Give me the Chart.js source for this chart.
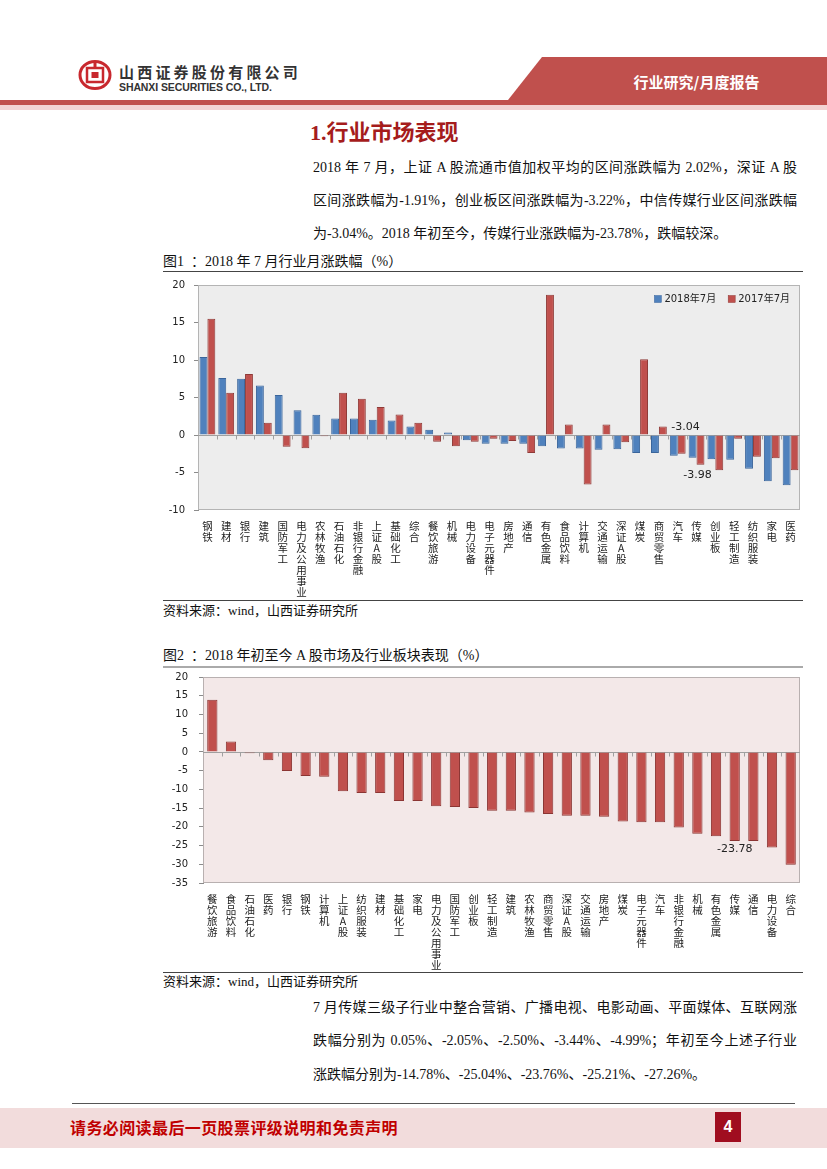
<!DOCTYPE html>
<html>
<head>
<meta charset="utf-8">
<script src="https://cdn.jsdelivr.net/npm/chart.js@4.4.0/dist/chart.umd.min.js"></script>
<style>
  body { margin: 0; width: 827px; height: 1169px; position: relative; background: #fff; overflow: hidden;
         font-family: "Liberation Serif", "Noto Sans CJK SC", serif; color: #111; }
  .abs { position: absolute; }
  .line { position: absolute; left: 313px; width: 484px; font-size: 14px; height: 20px; line-height: 20px;
          white-space: nowrap; }
  .just { text-align: justify; text-align-last: justify; }
  .caption { position: absolute; left: 163px; font-size: 14px; line-height: 18px; white-space: pre; }
  .source { position: absolute; left: 163px; font-size: 13px; line-height: 16px; white-space: nowrap; }
  .rule { position: absolute; left: 163px; width: 640px; height: 1px; background: #444; }
</style>
</head>
<body>
<!-- header -->
<svg class="abs" style="left:78px;top:60px" width="34" height="30" viewBox="0 0 34 30">
  <ellipse cx="17" cy="15" rx="15" ry="13.5" fill="none" stroke="#c8282e" stroke-width="3"/>
  <rect x="9" y="8" width="16" height="14" fill="none" stroke="#c8282e" stroke-width="2.5"/>
  <rect x="13.5" y="12" width="7" height="6" fill="#c8282e"/>
  <rect x="15.5" y="1" width="3" height="7" fill="#c8282e"/>
</svg>
<div class="abs" style="left:119px;top:63px;font:bold 15px 'Noto Sans CJK SC';letter-spacing:3.2px;color:#333;line-height:17px">山西证券股份有限公司</div>
<div class="abs" style="left:119px;top:81px;font:bold 10.5px 'Liberation Sans';color:#333;line-height:12px;letter-spacing:-0.1px">SHANXI SECURITIES CO., LTD.</div>
<div class="abs" style="left:504px;top:57px;width:323px;height:48px;background:#c0504d;clip-path:polygon(38px 0,100% 0,100% 100%,0 100%)"></div>
<div class="abs" style="left:0;top:100px;width:827px;height:5px;background:#c0504d"></div>
<div class="abs" style="left:0;top:105px;width:827px;height:5px;background:#f2d4d4"></div>
<div class="abs" style="left:620px;top:72px;width:153px;text-align:center;font:bold 15px 'Noto Sans CJK SC';color:#fff;line-height:20px">行业研究/月度报告</div>

<div class="abs" style="left:310px;top:118px;font:bold 22px 'Liberation Serif','Noto Sans CJK SC';color:#a51c1c;line-height:30px">1.行业市场表现</div>

<div class="line just" style="top:158px">2018 年 7 月，上证 A 股流通市值加权平均的区间涨跌幅为 2.02%，深证 A 股</div>
<div class="line just" style="top:191px">区间涨跌幅为-1.91%，创业板区间涨跌幅为-3.22%，中信传媒行业区间涨跌幅</div>
<div class="line" style="top:224px">为-3.04%。2018 年初至今，传媒行业涨跌幅为-23.78%，跌幅较深。</div>

<div class="caption" style="top:253px">图1  ：2018 年 7 月行业月涨跌幅（%）</div>
<div class="rule" style="top:271px"></div>
<canvas id="chart1" class="abs" style="left:163px;top:270px" width="640" height="330"></canvas>
<div class="rule" style="top:600px"></div>
<div class="source" style="top:603px">资料来源：wind，山西证券研究所</div>

<div class="caption" style="top:647px">图2  ：2018 年初至今 A 股市场及行业板块表现（%）</div>
<div class="rule" style="top:666px;height:2px;background:#aaa"></div>
<canvas id="chart2" class="abs" style="left:163px;top:660px" width="640" height="312"></canvas>
<div class="rule" style="top:972px"></div>
<div class="source" style="top:974px">资料来源：wind，山西证券研究所</div>

<div class="line just" style="top:998px">7 月传媒三级子行业中整合营销、广播电视、电影动画、平面媒体、互联网涨</div>
<div class="line just" style="top:1031px">跌幅分别为 0.05%、-2.05%、-2.50%、-3.44%、-4.99%；年初至今上述子行业</div>
<div class="line" style="top:1065px">涨跌幅分别为-14.78%、-25.04%、-23.76%、-25.21%、-27.26%。</div>

<!-- footer -->
<div class="abs" style="left:72px;top:1103px;width:723px;height:1px;background:#555"></div>
<div class="abs" style="left:0;top:1108px;width:827px;height:40px;background:#f2dcdc"></div>
<div class="abs" style="left:70px;top:1117px;font:bold 16px 'Noto Sans CJK SC';color:#c00000;line-height:20px;letter-spacing:0.4px">请务必阅读最后一页股票评级说明和免责声明</div>
<div class="abs" style="left:715px;top:1112px;width:26px;height:30px;background:#a00d1f;color:#fff;font:bold 16px 'Liberation Sans';line-height:30px;text-align:center">4</div>

<script>
// 图1：2018年7月行业月涨跌幅
const categories1 = ["钢铁", "建材", "银行", "建筑", "国防军工", "电力及公用事业", "农林牧渔", "石油石化",
  "非银行金融", "上证A股", "基础化工", "综合", "餐饮旅游", "机械", "电力设备", "电子元器件", "房地产",
  "通信", "有色金属", "食品饮料", "计算机", "交通运输", "深证A股", "煤炭", "商贸零售", "汽车", "传媒",
  "创业板", "轻工制造", "纺织服装", "家电", "医药"];
const values2018 = [10.4, 7.6, 7.5, 6.6, 5.35, 3.3, 2.7, 2.2, 2.2, 2.02, 1.95, 1.15, 0.7, 0.35, -0.7, -1.15,
  -1.15, -1.15, -1.5, -1.8, -1.8, -1.95, -1.91, -2.4, -2.4, -2.75, -3.04, -3.22, -3.3, -4.5, -6.15, -6.7];
const values2017 = [15.5, 5.65, 8.15, 1.65, -1.55, -1.75, -0.15, 5.65, 4.85, 3.75, 2.75, 1.65, -0.9, -1.5,
  -0.9, -0.5, -0.8, -2.4, 18.7, 1.4, -6.6, 1.4, -0.95, 10.1, 1.15, -2.5, -3.98, -4.7, -0.5, -2.9, -3.1, -4.7];
const yTicks1 = [-10, -5, 0, 5, 10, 15, 20];

// 图2：2018年初至今A股市场及行业板块表现
const categories2 = ["餐饮旅游", "食品饮料", "石油石化", "医药", "银行", "钢铁", "计算机", "上证A股",
  "纺织服装", "建材", "基础化工", "家电", "电力及公用事业", "国防军工", "创业板", "轻工制造", "建筑",
  "农林牧渔", "商贸零售", "深证A股", "交通运输", "房地产", "煤炭", "电子元器件", "汽车", "非银行金融",
  "机械", "有色金属", "传媒", "通信", "电力设备", "综合"];
const valuesYtd = [13.9, 2.75, -0.35, -2.2, -5.1, -6.45, -6.6, -10.5, -10.95, -10.95, -13.1, -13.1, -14.5,
  -14.7, -14.95, -15.7, -15.7, -16.2, -16.6, -17.05, -17.05, -17.3, -18.55, -18.8, -18.8, -20.15, -21.85,
  -22.55, -23.78, -23.8, -25.55, -30.15];
const yTicks2 = [-35, -30, -25, -20, -15, -10, -5, 0, 5, 10, 15, 20];

// 竖排标签：每个字一行
function verticalLabel(name) {
  return name.split("");
}

// 绘图区背景、边框、零轴
function plotFrame(bg, border) {
  return {
    id: "plotFrame",
    beforeDraw(chart) {
      const { ctx, chartArea } = chart;
      ctx.save();
      ctx.fillStyle = bg;
      ctx.fillRect(chartArea.left, chartArea.top, chartArea.width, chartArea.height);
      ctx.restore();
    },
    beforeDatasetsDraw(chart) {
      const { ctx, chartArea, scales } = chart;
      const y0 = Math.round(scales.y.getPixelForValue(0)) + 0.5;
      ctx.save();
      ctx.strokeStyle = border;
      ctx.lineWidth = 1;
      ctx.strokeRect(chartArea.left + 0.5, chartArea.top + 0.5, chartArea.width - 1, chartArea.height - 1);
      ctx.strokeStyle = "#a0a0a0";
      ctx.beginPath();
      ctx.moveTo(chartArea.left, y0);
      ctx.lineTo(chartArea.right, y0);
      const n = chart.data.labels.length;
      for (let i = 1; i < n; i++) {
        const xb = Math.round((scales.x.getPixelForValue(i - 1) + scales.x.getPixelForValue(i)) / 2) + 0.5;
        ctx.moveTo(xb, y0);
        ctx.lineTo(xb, y0 + 4);
      }
      ctx.stroke();
      ctx.restore();
    },
  };
}

// 图例画在绘图区右上角
const insideLegend = {
  id: "insideLegend",
  afterDatasetsDraw(chart) {
    const { ctx, chartArea } = chart;
    const sets = chart.data.datasets;
    ctx.save();
    ctx.font = "10px 'DejaVu Sans', 'Noto Sans CJK SC'";
    ctx.textBaseline = "middle";
    let x = chartArea.right - 10;
    const y = chartArea.top + 14;
    for (let i = sets.length - 1; i >= 0; i--) {
      const w = ctx.measureText(sets[i].label).width;
      x -= w;
      ctx.fillStyle = "#222";
      ctx.fillText(sets[i].label, x, y);
      x -= 10;
      ctx.fillStyle = sets[i].backgroundColor;
      ctx.fillRect(x, y - 3.5, 7, 7);
      ctx.strokeStyle = sets[i].borderColor;
      ctx.lineWidth = 0.5;
      ctx.strokeRect(x, y - 3.5, 7, 7);
      x -= 12;
    }
    ctx.restore();
  },
};

// 数据标签
function valueNotes(notes) {
  return {
    id: "valueNotes",
    afterDatasetsDraw(chart) {
      const { ctx } = chart;
      ctx.save();
      ctx.font = "11px 'DejaVu Sans'";
      ctx.fillStyle = "#222";
      ctx.textAlign = "center";
      ctx.textBaseline = "middle";
      for (const note of notes) {
        const el = chart.getDatasetMeta(note.ds).data[note.idx];
        const yRef = note.anchor === "base" ? el.base : el.y;
        ctx.fillText(note.text, el.x + note.dx, yRef + note.dy);
      }
      ctx.restore();
    },
  };
}

function axisOptions(yTicks, yWidth, xHeight, tickPad) {
  return {
    x: {
      grid: { display: false },
      border: { display: false },
      afterFit(scale) { scale.height = xHeight; },
      ticks: {
        autoSkip: false,
        maxRotation: 0,
        minRotation: 0,
        padding: 2,
        color: "#222",
        font: { family: "'Noto Sans CJK SC'", size: 10.5, lineHeight: 1.06 },
      },
    },
    y: {
      min: yTicks[0],
      max: yTicks[yTicks.length - 1],
      afterFit(scale) { scale.width = yWidth; },
      border: { display: true, color: "#8c8c8c" },
      grid: { drawOnChartArea: false, drawTicks: true, tickLength: 4, color: "#8c8c8c" },
      ticks: {
        stepSize: yTicks[1] - yTicks[0],
        padding: tickPad,
        color: "#222",
        font: { family: "'DejaVu Sans'", size: 10 },
      },
    },
  };
}

new Chart(document.getElementById("chart1"), {
  type: "bar",
  data: {
    labels: categories1.map(verticalLabel),
    datasets: [
      {
        label: "2018年7月",
        data: values2018,
        backgroundColor: "#4f81bd",
        borderColor: "#3a659b",
        borderWidth: 1,
        categoryPercentage: 0.84,
        barPercentage: 1.0,
      },
      {
        label: "2017年7月",
        data: values2017,
        backgroundColor: "#c0504d",
        borderColor: "#8f3a37",
        borderWidth: 1,
        categoryPercentage: 0.84,
        barPercentage: 1.0,
      },
    ],
  },
  options: {
    responsive: false,
    animation: false,
    layout: { padding: { top: 2, right: 3, left: 0, bottom: 0 } },
    plugins: {
      legend: { display: false },
      tooltip: { enabled: false },
    },
    scales: axisOptions(yTicks1, 35, 90, 9),
  },
  plugins: [
    plotFrame("#ededed", "#b4b4b4"),
    insideLegend,
    valueNotes([
      { ds: 0, idx: 26, text: "-3.04", anchor: "base", dx: -7, dy: -8 },
      { ds: 1, idx: 26, text: "-3.98", anchor: "end", dx: -3, dy: 10 },
    ]),
  ],
});

new Chart(document.getElementById("chart2"), {
  type: "bar",
  data: {
    labels: categories2.map(verticalLabel),
    datasets: [
      {
        label: "2018年初至今",
        data: valuesYtd,
        backgroundColor: "#c0504d",
        borderColor: "#8b3533",
        borderWidth: 1,
        categoryPercentage: 0.55,
        barPercentage: 1.0,
      },
    ],
  },
  options: {
    responsive: false,
    animation: false,
    layout: { padding: { top: 0, right: 3, left: 0, bottom: 0 } },
    plugins: {
      legend: { display: false },
      tooltip: { enabled: false },
    },
    scales: axisOptions(yTicks2, 40, 89, 11),
  },
  plugins: [
    plotFrame("#f3e8e8", "#b8b0b0"),
    valueNotes([{ ds: 0, idx: 28, text: "-23.78", anchor: "end", dx: 0, dy: 8 }]),
  ],
});
</script>
</body>
</html>
